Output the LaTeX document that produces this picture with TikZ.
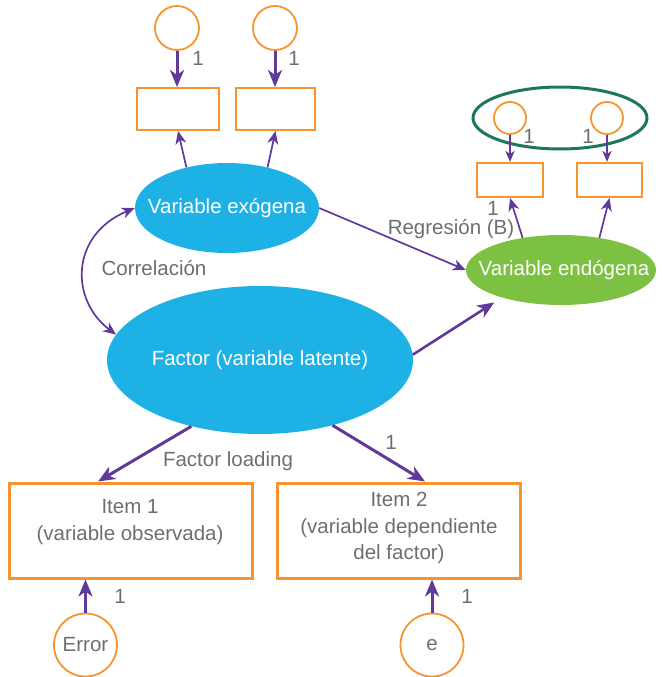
\documentclass[tikz,border=0pt]{standalone}
\usepackage{fontspec}
\setmainfont{Liberation Sans}
\usetikzlibrary{shapes.geometric,arrows.meta,calc}
\definecolor{cblue}{RGB}{29,177,230}
\definecolor{cgreen}{RGB}{125,193,66}
\definecolor{corange}{RGB}{247,148,48}
\definecolor{cpurple}{RGB}{95,58,152}
\definecolor{cdgreen}{RGB}{27,120,92}
\definecolor{cgrey}{RGB}{109,110,113}
\begin{document}
\begin{tikzpicture}[x=1pt,y=-1pt,
  font=\fontsize{20.5}{26.5}\selectfont,
  smallbox/.style={draw=corange, line width=2pt, inner sep=0pt, minimum height=42pt},
  tinybox/.style={draw=corange, line width=2pt, inner sep=0pt, minimum width=66pt, minimum height=34pt},
  itembox/.style={draw=corange, line width=3pt, inner sep=0pt, minimum width=243pt, minimum height=95pt},
  ocirc/.style={circle, draw=corange, line width=1.8pt, inner sep=0pt, text=cgrey},
  blueell/.style={ellipse, fill=cblue, inner sep=0pt},
  greenell/.style={ellipse, fill=cgreen, inner sep=0pt},
  wtxt/.style={text=white, inner sep=0pt},
  lbl/.style={text=cgrey, inner sep=0pt},
  bigarr/.style={draw=cpurple, line width=3pt, -{Stealth[length=17pt,width=14pt,inset=5pt]}},
  midarr/.style={draw=cpurple, line width=2.6pt, -{Stealth[length=11pt,width=9pt,inset=3pt]}},
  thinarr/.style={draw=cpurple, line width=1.7pt, -{Stealth[length=13pt,width=11pt,inset=4pt]}},
]
\useasboundingbox (0,0) rectangle (662,677);

% top exogenous indicators
\node[ocirc, minimum size=44pt] (c1) at (177,28) {};
\node[ocirc, minimum size=44pt] (c2) at (275,28) {};
\node[smallbox, minimum width=82pt] (b1) at (178,109) {};
\node[smallbox, minimum width=79pt] (b2) at (275.5,109) {};

% endogenous indicators
\node[ellipse, draw=cdgreen, line width=3pt, minimum width=174pt, minimum height=62pt, inner sep=0pt] (oval) at (560,118) {};
\node[ocirc, minimum size=32pt] (s1) at (510,118) {};
\node[ocirc, minimum size=32pt] (s2) at (607,118) {};
\node[tinybox] (b3) at (510,180) {};
\node[tinybox, minimum width=65pt] (b4) at (609.5,180) {};

% latent ellipses
\node[blueell, minimum width=184pt, minimum height=90pt] (exo) at (227,208) {};
\node[wtxt] (exot) at (exo.center) {Variable exógena};
\node[blueell, minimum width=306pt, minimum height=148pt] (fac) at (260,360) {};
\node[wtxt] (fact) at (fac.center) {Factor (variable latente)};
\node[greenell, minimum width=190pt, minimum height=70pt] (endo) at (561,270) {};
\node[wtxt] (endot) at (564,270) {Variable endógena};

% items
\node[itembox] (i1) at (130.5,530.5) {};
\node[itembox] (i2) at (398.5,530.5) {};
\node[lbl, align=center] (i1t) at (130,522) {Item 1\\(variable observada)};
\node[lbl, align=center] (i2t) at (399,528) {Item 2\\(variable dependiente\\del factor)};

% error circles
\node[ocirc, minimum size=63pt] (err) at (85.5,645) {Error};
\node[ocirc, minimum size=63pt] (ee) at (432,645) {e};

% arrows
\draw[bigarr] (c1.south) -- (c1.south |- b1.north);
\draw[bigarr] (c2.south) -- (c2.south |- b2.north);
\draw[thinarr] (exo.135) -- (b1.south);
\draw[thinarr] (exo.45) -- (b2.south);
\draw[midarr] (s1.south) -- (s1.south |- b3.north);
\draw[midarr] (s2.south) -- (s2.south |- b4.north);
\draw[thinarr] (endo.140) -- (b3.south);
\draw[thinarr] (endo.40) -- (b4.south);
\draw[thinarr] (exo.east) -- (endo.west);
\draw[bigarr, line width=2.6pt, shorten >=9pt] (fac.2) -- (endo.205);
\draw[draw=cpurple, line width=1.7pt, {Stealth[length=13pt,width=11pt,inset=4pt]}-{Stealth[length=13pt,width=11pt,inset=4pt]}]
  (exo.west) .. controls (70,235) and (70,300) .. (fac.170);
\draw[bigarr] (fac.224) -- ([xshift=-32.5pt]i1.north);
\draw[bigarr] (fac.318) -- ([xshift=26.5pt]i2.north);
\draw[bigarr] (err.north) -- (err.north |- i1.south);
\draw[bigarr] (ee.north) -- (ee.north |- i2.south);

% labels
\node[lbl] (l1) at (198,58) {1};
\node[lbl] (l2) at (294,58) {1};
\node[lbl] (l3) at (529,136) {1};
\node[lbl] (l4) at (588,136) {1};
\node[lbl] (l5) at (493,208) {1};
\node[lbl] (l6) at (391,442) {1};
\node[lbl] (l7) at (120,596) {1};
\node[lbl] (l8) at (467,596) {1};
\node[lbl, anchor=base] (reg) at (451,234) {Regresión (B)};
\node[lbl, anchor=base] (cor) at (154,275) {Correlación};
\node[lbl, anchor=base] (fl) at (228,466) {Factor loading};
\end{tikzpicture}
\end{document}
